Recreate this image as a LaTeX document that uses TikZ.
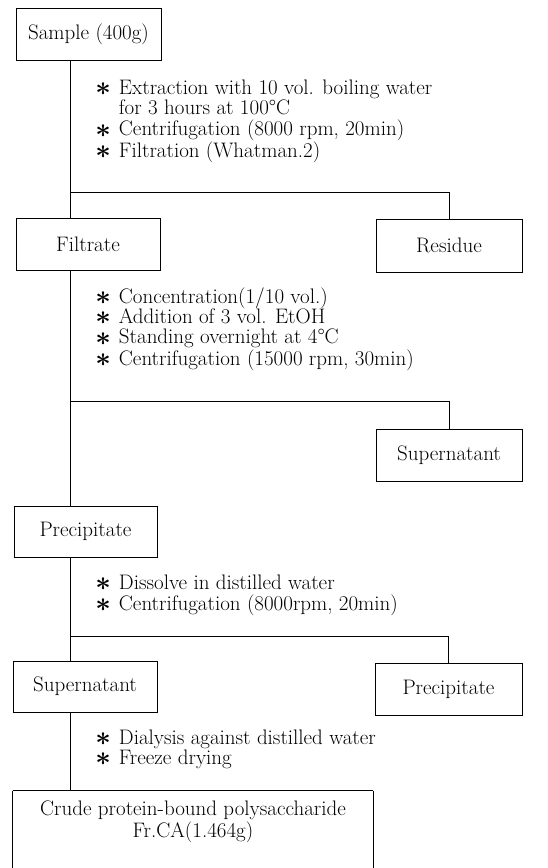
\documentclass[tikz,border=0pt]{standalone}
\usepackage{bm}
\usepackage{graphicx}
\usepackage{fontspec}
\begin{document}
\begin{tikzpicture}[x=1pt,y=-1pt,
  font=\fontsize{21}{19}\selectfont,
  every path/.style={line width=0.9pt},
  box/.style={draw, line width=0.9pt, inner sep=0pt, align=center},
  steps/.style={anchor=base west, inner sep=0pt}]
\useasboundingbox (0,0) rectangle (547,868);
\newcommand{\bl}{\raisebox{-1.2pt}{\scalebox{1.3}{$\bm{\ast}$}}}
% boxes
\node[box, minimum width=145pt, minimum height=52pt] (sample) at (88.5,34) {Sample (400g)};
\node[box, minimum width=144pt, minimum height=52pt] (filtrate) at (88,244) {Filtrate};
\node[box, minimum width=146pt, minimum height=53pt] (residue) at (449,245.5) {Residue};
\node[box, minimum width=146pt, minimum height=52pt] (super1) at (449,455) {Supernatant};
\node[box, minimum width=143pt, minimum height=51pt] (precip1) at (85.5,531.5) {Precipitate};
\node[box, minimum width=144pt, minimum height=51pt] (super2) at (85,686.5) {Supernatant};
\node[box, minimum width=147pt, minimum height=52pt] (precip2) at (448.5,689) {Precipitate};
\node[inner sep=0pt, align=center, minimum width=360pt, minimum height=62pt,
  font=\fontsize{21}{22}\selectfont] (final) at (193,822)
  {Crude protein-bound polysaccharide\\Fr.CA(1.464g)};
\draw (final.north west) -- (final.north east);
\draw (final.north west) -- ++(0,90);
\draw (final.north east) -- ++(0,90);
% step texts
\node[steps] (s1) at (95,94) {\begin{tabular}[t]{@{}c@{\hspace{8pt}}l@{}}
\bl & Extraction with 10 vol. boiling water\\
 & for 3 hours at 100°C\\
\bl & Centrifugation (8000 rpm, 20min)\\
\bl & Filtration (Whatman.2)
\end{tabular}};
\node[steps] (s2) at (95,303) {\begin{tabular}[t]{@{}c@{\hspace{8pt}}l@{}}
\bl & Concentration(1/10 vol.)\\
\bl & Addition of 3 vol. EtOH\\
\bl & Standing overnight at 4°C\\
\bl & Centrifugation (15000 rpm, 30min)
\end{tabular}};
\node[steps] (s3) at (95,589) {\begin{tabular}[t]{@{}c@{\hspace{8pt}}l@{}}
\bl & Dissolve in distilled water\\
\bl & Centrifugation (8000rpm, 20min)
\end{tabular}};
\node[steps] (s4) at (95,744) {\begin{tabular}[t]{@{}c@{\hspace{8pt}}l@{}}
\bl & Dialysis against distilled water\\
\bl & Freeze drying
\end{tabular}};
% connectors
\coordinate (b1) at (70,192);
\coordinate (b2) at (70,401);
\coordinate (b3) at (70,636);
\coordinate (b4) at (70,740);
\draw (sample.south -| b1) -- (filtrate.north -| b1);
\draw (b1) -| (residue.north);
\draw (filtrate.south -| b2) -- (precip1.north -| b2);
\draw (b2) -| (super1.north);
\draw (precip1.south -| b3) -- (super2.north -| b3);
\draw (b3) -| (precip2.north);
\draw (super2.south -| b4) -- (final.north -| b4);
\end{tikzpicture}
\end{document}
